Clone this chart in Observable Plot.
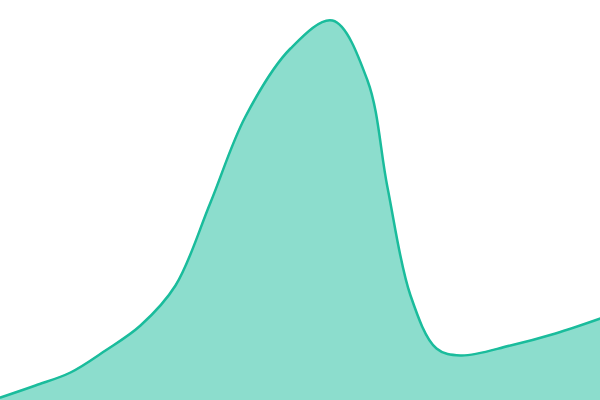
<!DOCTYPE html>
<html><head><meta charset="utf-8">
<script src="https://cdn.jsdelivr.net/npm/d3@7"></script>
<script src="https://cdn.jsdelivr.net/npm/@observablehq/plot@0.6"></script>
<style>html,body{margin:0;padding:0;background:#fff}</style>
</head><body><div id="chart"></div>
<script>
const xs = [0, 35, 70, 105, 140, 175, 210, 245, 290, 332, 367, 387, 410, 436, 460, 510, 555, 600];
const values = [0.75, 3.75, 7, 12.5, 18.75, 28.75, 49.5, 71, 88, 95, 80, 53.25, 26.25, 13, 11.25, 13.75, 16.75, 20.5];
const data = xs.map((x, i) => ({x, y: values[i]}));
const chart = Plot.plot({
  width: 600, height: 400,
  margin: 0,
  x: {domain: [0, 600], axis: null},
  y: {domain: [0, 100], axis: null},
  marks: [
    Plot.areaY(data, {x: "x", y: "y", curve: "catmull-rom", fill: "#1abc9c", fillOpacity: 0.5}),
    Plot.lineY(data, {x: "x", y: "y", curve: "catmull-rom", stroke: "#1abc9c", strokeWidth: 2.5})
  ]
});
document.getElementById("chart").appendChild(chart);
</script></body></html>
